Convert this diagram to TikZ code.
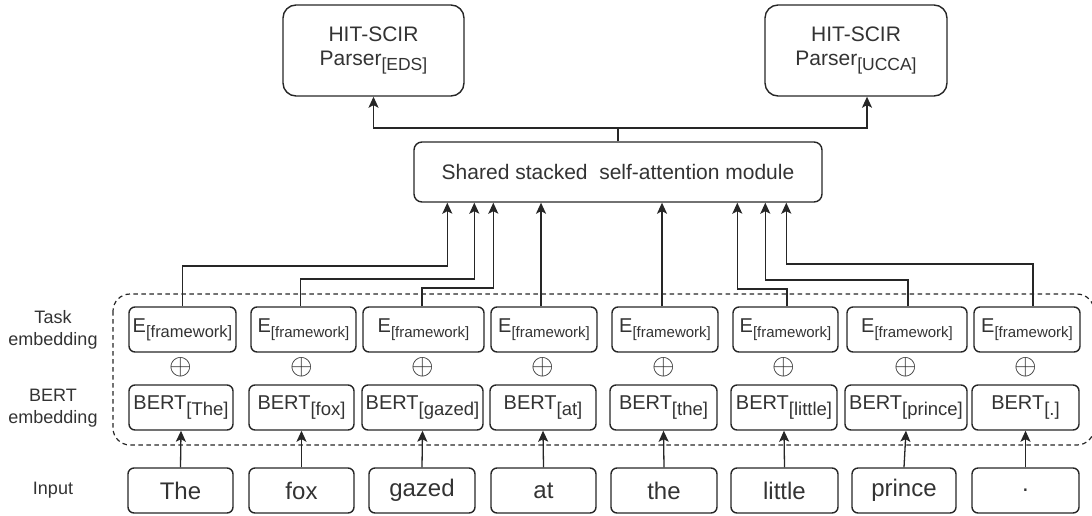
\documentclass[tikz,border=0pt]{standalone}
\usepackage{fontspec}
\setmainfont{Liberation Sans}
\usetikzlibrary{arrows.meta}
\newcommand\Esub[1][15]{E\raisebox{-5pt}{\fontsize{#1}{#1}\selectfont[framework]}}
\newcommand\Bsub[1]{BERT\raisebox{-6pt}{\fontsize{18.5}{18.5}\selectfont[#1]}}
\begin{document}
\begin{tikzpicture}[x=1pt,y=-1pt,
  box/.style={draw=black!85, line width=1.4pt, rounded corners=6pt, inner sep=0pt, align=center, text=black!80, minimum height=45pt},
  bigbox/.style={box, rounded corners=13pt, minimum width=181pt, minimum height=91pt, font=\fontsize{21}{24}\selectfont},
  ebox/.style={box, font=\fontsize{20}{20}\selectfont},
  bbox/.style={box, font=\fontsize{20}{20}\selectfont},
  ibox/.style={box, font=\fontsize{24}{24}\selectfont},
  lbl/.style={align=center, text=black!80, font=\fontsize{18}{22}\selectfont, inner sep=0pt},
  plus/.style={inner sep=0pt, text=black!85},
  arr/.style={draw=black!85, line width=1.3pt, -{Stealth[length=11pt,width=10pt,inset=2.5pt]}},
  grp/.style={draw=black!85, line width=1.2pt, dash pattern=on 4.5pt off 3.5pt, rounded corners=17pt}
]
\useasboundingbox (0,0) rectangle (1092,515);

% top parsers
\node[bigbox] (eds) at (373.5,50.5) {HIT-SCIR\\Parser\raisebox{-5pt}{\fontsize{17.5}{17.5}\selectfont[EDS]}};
\node[bigbox, minimum width=182pt] (ucca) at (856,50.5) {HIT-SCIR\\Parser\raisebox{-5pt}{\fontsize{17.5}{17.5}\selectfont[UCCA]}};

% shared module
\node[box, rounded corners=8pt, minimum width=408pt, minimum height=60pt, font=\fontsize{21}{21}\selectfont] (sh) at (618,172) {Shared stacked\ \ self-attention module};

% group (dashed)
\begin{scope}
\clip (0,0) rectangle (1092,515);
\draw[grp] (113,294) rectangle (1094,445);
\end{scope}

% columns
\foreach \i/\ex/\ew/\bx/\bw/\ix/\iw/\w/\es in {
  1/182.5/107/181/104/180.5/105/The/16.5,
  2/303.5/105/301.5/105/301.5/105/fox/15,
  3/423.5/121/422.5/121/422/106/gazed/15,
  4/544/106/543/106/543.5/105/at/15,
  5/665/106/663.5/107/664/106/the/15,
  6/785.5/105/784/106/784.5/107/little/15,
  7/907/120/906/122/904/104/prince/15,
  8/1027/106/1025.5/107/1025.5/107/./15}{
  \node[ebox, minimum width=\ew pt] (e\i) at (\ex,329.5) {\Esub[\es]};
  \node[bbox, minimum width=\bw pt] (b\i) at (\bx,407.5) {\Bsub{\w}};
  \node[ibox, minimum width=\iw pt] (i\i) at (\ix,490.5) {\w};
  \node[plus] (p\i) at (\bx,367) {\scalebox{2.9}{$\oplus$}};
  \draw[arr] (i\i.north) -- (b\i.south);
}

% left labels
\node[lbl] (lt) at (53,330) {Task\\embedding};
\node[lbl] (lb) at (53,408) {BERT\\embedding};
\node[lbl] (li) at (53,490) {Input};

% targets on the shared module
\coordinate (a1) at ([xshift=34pt]sh.south west);
\coordinate (a2) at ([xshift=61pt]sh.south west);
\coordinate (a3) at ([xshift=80pt]sh.south west);
\coordinate (a6) at ([xshift=324pt]sh.south west);
\coordinate (a7) at ([xshift=352pt]sh.south west);
\coordinate (a8) at ([xshift=373pt]sh.south west);

\draw[arr] (e1.north) |- (a1 |- 0,266) -- (a1);
\draw[arr] ([xshift=-3pt]e2.north) |- (a2 |- 0,279) -- (a2);
\draw[arr] ([xshift=-1.5pt]e3.north) |- (a3 |- 0,288) -- (a3);
\draw[arr] ([xshift=-3pt]e4.north) -- ([xshift=-3pt]e4.north |- sh.south);
\draw[arr] ([xshift=-3pt]e5.north) -- ([xshift=-3pt]e5.north |- sh.south);
\draw[arr] ([xshift=1.5pt]e6.north) |- (a6 |- 0,289) -- (a6);
\draw[arr] ([xshift=1pt]e7.north) |- (a7 |- 0,280) -- (a7);
\draw[arr] ([xshift=6pt]e8.north) |- (a8 |- 0,264) -- (a8);

% outputs
\coordinate (j) at (sh.north |- 0,128);
\draw[line width=1.3pt, draw=black!85] (sh.north) -- (j);
\draw[arr] (j) -| (eds.south);
\draw[arr] (j) -| ([xshift=11pt]ucca.south);
\end{tikzpicture}
\end{document}
